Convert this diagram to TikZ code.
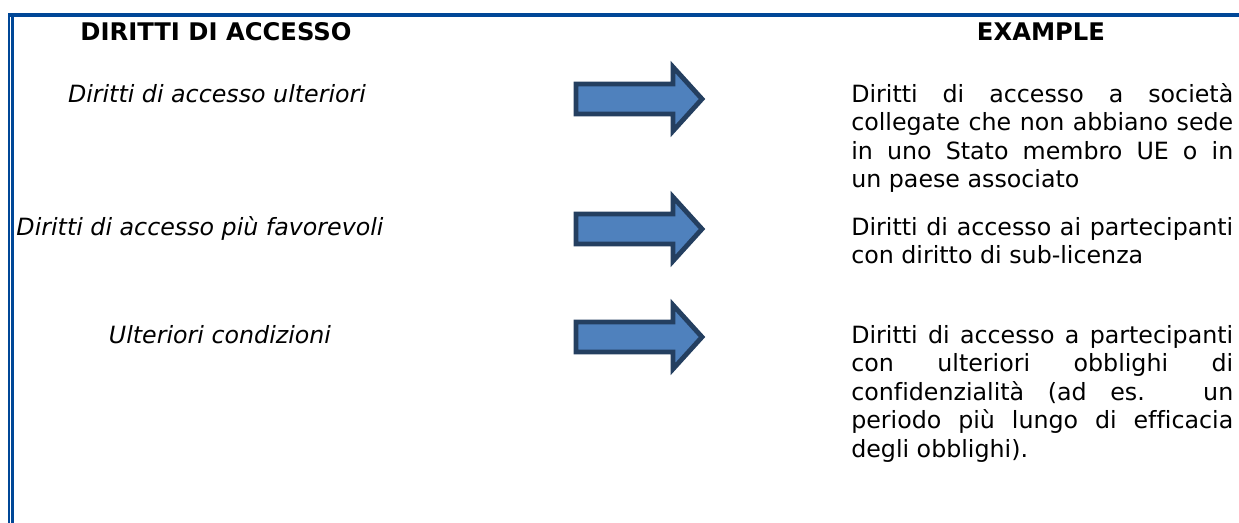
\documentclass[tikz,border=0pt]{standalone}
\usepackage{fontspec}
\setmainfont{DejaVu Sans}[Ligatures=NoCommon]
\definecolor{frameblue}{RGB}{0,71,151}
\definecolor{arrowfill}{RGB}{79,129,189}
\definecolor{arrowline}{RGB}{36,63,96}
\newcommand\bodysize{\fontsize{17.8pt}{24pt}\selectfont}
\newcommand\headsize{\fontsize{18.2pt}{24pt}\selectfont}
\newcommand\blockarrow[1]{%
  \draw[arrowshape] (576,#1-15) -- (673,#1-15) -- (673,#1-32) -- (702,#1) -- (673,#1+32) -- (673,#1+15) -- (576,#1+15) -- cycle;}
\newcommand\jline[2]{\makebox[#1][s]{#2}}
\begin{document}
\begin{tikzpicture}[x=0.75pt,y=-0.75pt,
  arrowshape/.style={draw=arrowline,fill=arrowfill,line width=3.6pt,line join=miter},
  head/.style={font=\headsize\bfseries,inner sep=0pt,anchor=base},
  lefttext/.style={font=\bodysize\itshape,inner sep=0pt,anchor=base},
  righttext/.style={font=\bodysize,inner sep=0pt,anchor=base west}]
\useasboundingbox (0,0) rectangle (1239,523);
% frame
\fill[frameblue] (8,13) rectangle (1239,17);
\fill[frameblue] (8,13) rectangle (10.2,523);
\fill[frameblue] (11.3,17) rectangle (13.5,523);
% headers
\node[head] (h1) at (216,40.5) {DIRITTI DI ACCESSO};
\node[head] (h2) at (1041,40.5) {EXAMPLE};
% left column
\node[lefttext] (l1) at (217,102.5) {Diritti di accesso ulteriori};
\node[lefttext] (l2) at (200,235.5) {Diritti di accesso più favorevoli};
\node[lefttext] (l3) at (220,343.5) {Ulteriori condizioni};
% arrows
\blockarrow{99}
\blockarrow{229}
\blockarrow{337}
% right column
\def\w{286.5pt}
\node[righttext] (r1a) at (851,102.5) {\jline{\w}{Diritti di accesso a società}};
\node[righttext] (r1b) at (851,131) {\jline{\w}{collegate che non abbiano sede}};
\node[righttext] (r1c) at (851,159.5) {\jline{\w}{in uno Stato membro UE o in}};
\node[righttext] (r1d) at (851,188) {un paese associato};
\node[righttext] (r2a) at (851,235.5) {\jline{\w}{Diritti di accesso ai partecipanti}};
\node[righttext] (r2b) at (851,264) {con diritto di sub-licenza};
\node[righttext] (r3a) at (851,343.5) {\jline{\w}{Diritti di accesso a partecipanti}};
\node[righttext] (r3b) at (851,372) {\jline{\w}{con ulteriori obblighi di}};
\node[righttext] (r3c) at (851,400.5) {\jline{\w}{confidenzialità (ad es. un}};
\node[righttext] (r3d) at (851,429) {\jline{\w}{periodo più lungo di efficacia}};
\node[righttext] (r3e) at (851,457.5) {degli obblighi).};
\end{tikzpicture}
\end{document}
